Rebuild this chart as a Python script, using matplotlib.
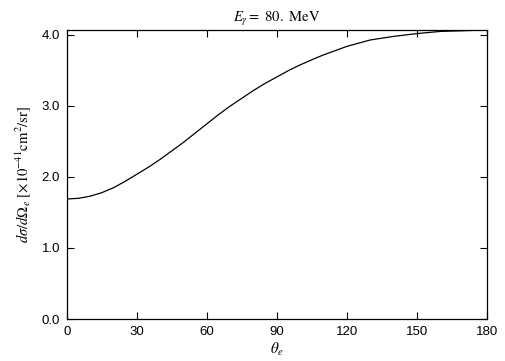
import matplotlib
matplotlib.use('Agg')
import matplotlib.pyplot as plt

# angle de l'electron (deg) et section efficace (x10^-41 cm^2/sr)
theta = [0, 5, 10, 15, 20, 25, 30, 35, 40, 45, 50, 55, 60, 65, 70, 75, 80, 85,
         90, 95, 100, 107, 110, 115, 120, 130, 140, 150, 160, 170, 180]
dsig = [1.69, 1.70, 1.73, 1.78, 1.85, 1.94, 2.04, 2.14, 2.25, 2.37, 2.49, 2.62,
        2.75, 2.88, 3.00, 3.11, 3.22, 3.32, 3.41, 3.50, 3.58, 3.68, 3.72, 3.78,
        3.84, 3.93, 3.98, 4.02, 4.05, 4.06, 4.07]

xticks = [0, 30, 60, 90, 120, 150, 180]
yticks = [0.0, 1.0, 2.0, 3.0, 4.0]

plt.rcParams['mathtext.fontset'] = 'stix'
plt.rcParams['font.family'] = 'Liberation Sans'

fig = plt.figure(figsize=(5.05, 3.61), dpi=100)
ax = fig.add_axes([67 / 505, 1 - 319 / 361, 420 / 505, 289 / 361])

ax.plot(theta, dsig, '-', color='black', linewidth=0.9)

ax.set_xlim(0, 180)
ax.set_ylim(0, 4.07)
ax.set_xticks(xticks)
ax.set_xticklabels([str(t) for t in xticks])
ax.set_yticks(yticks)
ax.set_yticklabels([f'{v:.1f}' for v in yticks])
ax.tick_params(direction='in', length=5, width=0.8, top=True, right=True,
               labelsize=9.5, pad=5)
for s in ax.spines.values():
    s.set_linewidth(0.9)

ax.set_xlabel(r'$\theta_e$', fontsize=11, labelpad=2)
ax.set_ylabel(r'$d\sigma/d\Omega_e\ \mathrm{[\times10^{-41}cm^2/sr]}$', fontsize=10.5, labelpad=6)
ax.set_title(r'$E_\gamma\mathrm{=\ 80.\ MeV}$', fontsize=10.5, pad=6)

plt.savefig('out.png', dpi=100)
